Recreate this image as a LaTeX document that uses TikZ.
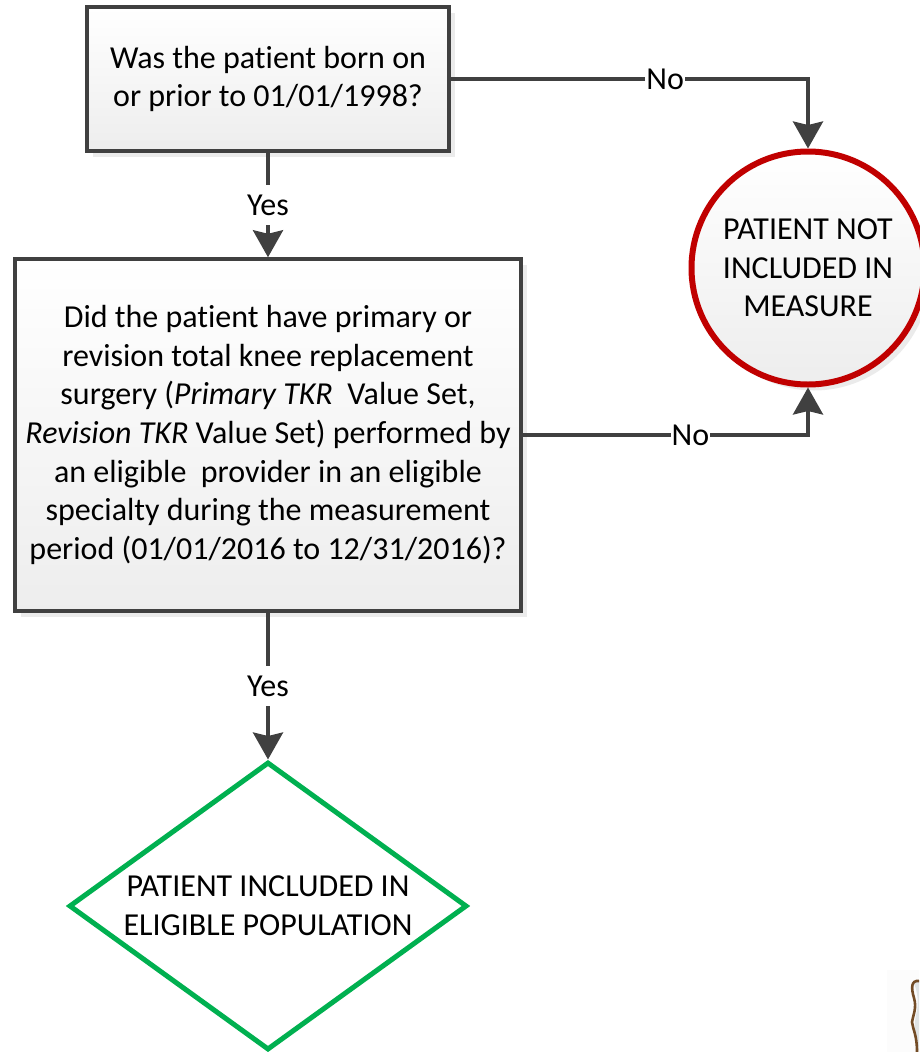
\documentclass[tikz,border=0pt]{standalone}
\usepackage{fontspec}
\setmainfont{Carlito}[Ligatures=NoCommon]
\usetikzlibrary{arrows.meta,shapes.geometric,shadows}
\definecolor{ink}{HTML}{404040}
\definecolor{redline}{HTML}{C00000}
\definecolor{greenline}{HTML}{00B050}
\tikzset{
  x=1pt,y=-1pt,
  txt/.style={align=center,font=\fontsize{32}{38.6}\selectfont,text=black,inner sep=0pt},
  shad/.style={general shadow={shadow xshift=6pt,shadow yshift=-6pt,fill=black!8}},
  procbox/.style={txt,draw=ink,line width=3.5pt,rectangle,shade,top color=white,bottom color=black!7,shad},
  conn/.style={draw=ink,line width=3.8pt,-{Stealth[length=27pt,width=30pt,inset=3.5pt]}},
  lab/.style={font=\fontsize{32}{36}\selectfont,fill=white,inner xsep=1pt,inner ysep=0pt,minimum height=40pt,text=black},
}
\begin{document}
\begin{tikzpicture}
\useasboundingbox (0,0) rectangle (919,1052);
\node[procbox,minimum width=362pt,minimum height=144pt] (q1) at (268,79) {Was the patient born on\\or prior to 01/01/1998?};
\node[procbox,minimum width=506pt,minimum height=352pt] (q2) at (268,435) {Did the patient have primary or\\revision total knee replacement\\surgery (\textit{Primary TKR} \ Value Set,\\\textit{Revision TKR} Value Set) performed by\\an eligible \ provider in an eligible\\specialty during the measurement\\period (01/01/2016 to 12/31/2016)?};
\node[txt,draw=redline,line width=6pt,circle,minimum size=233pt,shade,top color=white,bottom color=black!7,shad] (out) at (808,268) {PATIENT NOT\\INCLUDED IN\\MEASURE};
\node[txt,draw=greenline,line width=5pt,diamond,aspect=1.38,minimum width=398pt,minimum height=288pt,fill=white] (in) at (268,906) {PATIENT INCLUDED IN\\ELIGIBLE POPULATION};
\draw[conn] (q1) -- node[lab,pos=0.5] {Yes} (q2);
\draw[conn] (q2) -- node[lab,pos=0.5] {Yes} (in);
\draw[conn] (q1.east) -| node[lab,pos=0.30] {No} (out.north);
\draw[conn] (q2.east) -| node[lab,pos=0.294] {No} (out.south);
\fill[black!1] (887,970) rectangle (919,1052);
\fill[cyan!10!gray!25] (913,982) .. controls (918,990) and (919,1005) .. (916,1015) .. controls (913,1030) and (916,1040) .. (919,1052) -- (919,980) -- cycle;
\draw[draw=brown!60!black,line width=2.6pt] (919,981) .. controls (911,980) and (911,988) .. (914,998) .. controls (917,1008) and (913,1015) .. (912,1022) .. controls (913,1030) and (917,1035) .. (917,1052);
\end{tikzpicture}
\end{document}
